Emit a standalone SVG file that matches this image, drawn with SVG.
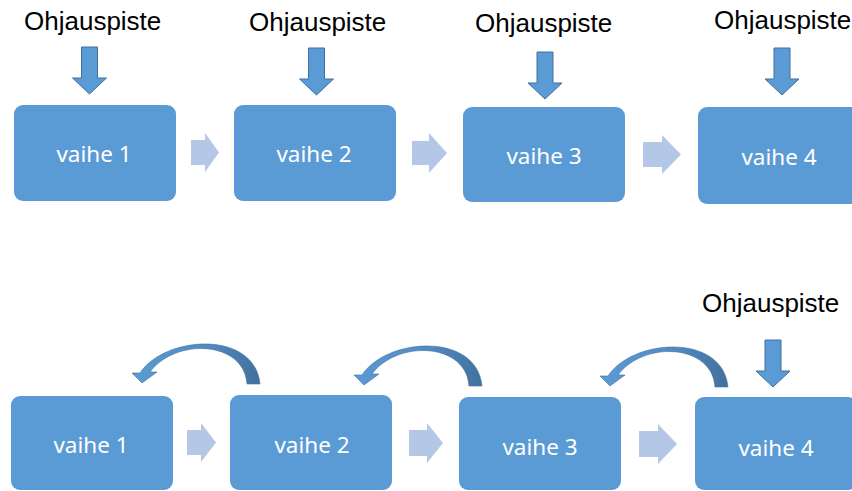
<svg xmlns="http://www.w3.org/2000/svg" xmlns:xlink="http://www.w3.org/1999/xlink" width="852" height="491" viewBox="0 0 852 491">
<style>
.box{fill:#5B9BD5;}
.lbl{font-family:"Noto Sans","Open Sans","DejaVu Sans",sans-serif;font-size:22.5px;fill:#FFFFFF;text-anchor:middle;}
.cp{font-family:"Liberation Sans",Arial,sans-serif;font-size:26px;fill:#000000;}
.down{fill:#5B9BD5;stroke:#41719C;stroke-width:1;}
.right{fill:#B4C7E7;}
.curve{fill:url(#cg);stroke:#41719C;stroke-width:0.6;}
</style>
<defs>
<linearGradient id="cg" x1="0" y1="0" x2="1" y2="0">
<stop offset="0" stop-color="#5B9BD5"/>
<stop offset="0.6" stop-color="#5189C2"/>
<stop offset="1" stop-color="#41719C"/>
</linearGradient>
<path id="dn" d="M -8 0 H 8 V 31 H 17 L 0 47 L -17 31 H -8 Z"/>
<path id="ca" d="M 260 384 L 247 384 C 244 340 175 338 150 372 L 157 372 L 142 383 L 132 373 L 140 373 C 165 335 255 330 260 384 Z"/>
</defs>

<g id="row1">
<g id="top-step1"><rect class="box" x="14" y="105" width="162" height="96" rx="9"/><text class="lbl" x="94" y="162">vaihe 1</text></g>
<g id="top-step2"><rect class="box" x="234" y="105" width="162" height="96" rx="9"/><text class="lbl" x="314" y="162">vaihe 2</text></g>
<g id="top-step3"><rect class="box" x="463" y="107" width="162" height="95" rx="9"/><text class="lbl" x="544" y="164">vaihe 3</text></g>
<g id="top-step4"><rect class="box" x="698" y="107" width="162" height="97" rx="9"/><text class="lbl" x="779" y="165">vaihe 4</text></g>
<g id="top-cp1"><text class="cp" x="24" y="30">Ohjauspiste</text></g>
<g id="top-cp2"><text class="cp" x="249" y="31">Ohjauspiste</text></g>
<g id="top-cp3"><text class="cp" x="475" y="32">Ohjauspiste</text></g>
<g id="top-cp4"><text class="cp" x="714" y="29">Ohjauspiste</text></g>
</g>

<g id="row2">
<g id="bot-step1"><rect class="box" x="11" y="396" width="162" height="94" rx="9"/><text class="lbl" x="91" y="453">vaihe 1</text></g>
<g id="bot-step2"><rect class="box" x="230" y="395" width="162" height="95" rx="9"/><text class="lbl" x="312" y="453">vaihe 2</text></g>
<g id="bot-step3"><rect class="box" x="459" y="397" width="162" height="93" rx="9"/><text class="lbl" x="540" y="455">vaihe 3</text></g>
<g id="bot-step4"><rect class="box" x="695" y="397" width="162" height="93" rx="9"/><text class="lbl" x="776" y="456">vaihe 4</text></g>
<g id="bot-cp4"><text class="cp" x="702" y="312">Ohjauspiste</text></g>
</g>

<g id="connectors">
<use xlink:href="#dn" class="down" transform="translate(89.5,47)"/>
<use xlink:href="#dn" class="down" transform="translate(316.5,48)"/>
<use xlink:href="#dn" class="down" transform="translate(545,52)"/>
<use xlink:href="#dn" class="down" transform="translate(782,48)"/>
<use xlink:href="#dn" class="down" transform="translate(773,340)"/>

<path class="right" d="M 191 140 H 205 V 133 L 219 152.5 L 205 172 V 165 H 191 Z"/>
<path class="right" d="M 412 141 H 429 V 133 L 447 153 L 429 173 V 165 H 412 Z"/>
<path class="right" d="M 643 142 H 662 V 135 L 681 154.5 L 662 174 V 167 H 643 Z"/>
<path class="right" d="M 187 430 H 201 V 423 L 216 442.5 L 201 462 V 455 H 187 Z"/>
<path class="right" d="M 409 430 H 427 V 423 L 443 443 L 427 463 V 456 H 409 Z"/>
<path class="right" d="M 639 431 H 658 V 424 L 677 444 L 658 464 V 457 H 639 Z"/>

<use xlink:href="#ca" class="curve"/>
<use xlink:href="#ca" class="curve" transform="translate(222,2)"/>
<use xlink:href="#ca" class="curve" transform="translate(468,3)"/>
</g>
</svg>
